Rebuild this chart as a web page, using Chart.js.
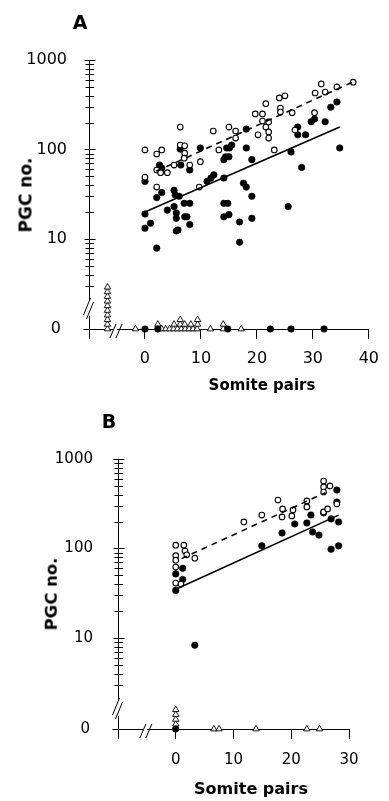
<!DOCTYPE html>
<html>
<head>
<meta charset="utf-8">
<script src="https://cdn.jsdelivr.net/npm/chart.js@4.4.1/dist/chart.umd.min.js"></script>
<style>
  html, body { margin: 0; padding: 0; background: #fff; }
  body { width: 389px; height: 801px; position: relative; overflow: hidden; font-family: "DejaVu Sans", sans-serif; color: #000; }
  canvas { position: absolute; left: 0; }
  #chartA { top: 0; }
  #chartB { top: 400px; }
  .lbl { position: absolute; font-weight: bold; white-space: nowrap; line-height: 1; transform: translate(-50%, -50%); }
  .rot { transform: translate(-50%, -50%) rotate(-90deg); }
</style>
</head>
<body>
<canvas id="chartA" width="389" height="400"></canvas>
<canvas id="chartB" width="389" height="401"></canvas>

<div class="lbl" style="left:80px; top:22px; font-size:19px;">A</div>
<div class="lbl rot" style="left:26px; top:195px; font-size:17px;">PGC no.</div>
<div class="lbl" style="left:262px; top:385px; font-size:15px;">Somite pairs</div>

<div class="lbl" style="left:109px; top:421px; font-size:19px;">B</div>
<div class="lbl rot" style="left:52px; top:594px; font-size:16.5px;">PGC no.</div>
<div class="lbl" style="left:251px; top:789px; font-size:16px;">Somite pairs</div>

<script>
// tick labels
const yLabelTicks = [10, 100, 1000];
const yMinorTicks = [3, 4, 5, 6, 7, 8, 9, 20, 30, 40, 50, 60, 70, 80, 90, 200, 300, 400, 500, 600, 700, 800, 900];
const xTicksA = [-10, 0, 10, 20, 30, 40];
const xTicksB = [-10, 0, 10, 20, 30];

// panel A  [somite pairs, PGC no.]
const aOpen = [
  [0, 99], [2.1, 89], [3.0, 99], [6.3, 178], [6.3, 112], [7.1, 110], [7.1, 91], [7.0, 80],
  [12.2, 161], [13.2, 99], [15.0, 178], [16.2, 161], [16.2, 134],
  [2.1, 59], [2.8, 55], [4.0, 55], [5.2, 67], [8.0, 67], [9.9, 73],
  [0, 49], [2.1, 38], [9.7, 38],
  [19.7, 250], [21.0, 250], [21.6, 325], [21.0, 208], [22.1, 203], [21.6, 178], [22.1, 157], [20.2, 146], [22.1, 134],
  [24.0, 377], [25.0, 398], [24.2, 290], [24.2, 262], [26.3, 258], [23.1, 99], [26.8, 165],
  [30.3, 258], [30.4, 428], [31.5, 540], [32.2, 438], [34.3, 500], [37.2, 565]
];
const aFilled = [
  [0, 44], [2.6, 67], [3.0, 62], [6.3, 101], [6.4, 67], [8.0, 59], [9.9, 104],
  [14.6, 104], [15.1, 104], [15.5, 112], [14.1, 77], [14.4, 83], [15.0, 83],
  [18.1, 104], [18.1, 169], [19.1, 77],
  [11.1, 44], [11.8, 48], [12.3, 52], [14.1, 48], [17.6, 42], [18.1, 38],
  [3.0, 33], [5.2, 35], [5.4, 31], [6.1, 30], [2.1, 29], [7.0, 25], [8.0, 25], [14.1, 25], [14.8, 25], [19.1, 30],
  [26.1, 94], [27.3, 178], [27.3, 146], [28.7, 146], [28.0, 63], [29.7, 204], [30.3, 219], [32.2, 204],
  [33.2, 297], [34.3, 340], [34.8, 104],
  [4.0, 21], [5.2, 23], [5.6, 19.5], [5.6, 17], [7.1, 17.7], [7.5, 17.7], [5.9, 12.6], [5.6, 12.3], [8.0, 14.5],
  [0, 19], [1.0, 15], [0, 13.2], [2.1, 7.9], [14.1, 17.7], [15.0, 18.7], [16.9, 15.5], [16.9, 9.2], [19.1, 17], [25.6, 23]
];
// embryos with no PGCs: [somite pairs, stack position]
const aZeroFilled = [[0, 0], [2.3, 0], [14.8, 0], [22.4, 0], [26.1, 0], [32, 0]];
const aZeroOpen = [
  [-6.7, 0], [-6.7, 1], [-6.7, 2], [-6.7, 3], [-6.7, 4], [-6.7, 5], [-6.7, 6], [-6.7, 7], [-6.7, 8], [-6.7, 9],
  [-1.7, 0], [2.3, 1],
  [3.0, 0], [3.7, 0], [4.4, 0], [5.1, 0], [5.8, 0], [6.5, 0], [7.2, 0], [7.9, 0], [8.6, 0], [9.3, 0],
  [5.2, 1], [6.3, 1], [7.1, 1], [8.2, 1], [9.4, 1], [6.3, 2], [9.4, 2],
  [11.7, 0], [14.0, 0], [14.0, 1], [17.2, 0]
];
const aFitFilled = [[0, 20], [34.8, 178]];
const aFitOpen = [[2.0, 57], [37.2, 570]];

// panel B
const bOpen = [
  [0, 109], [1.4, 109], [0, 83], [1.6, 94], [1.9, 85], [0, 74], [3.3, 78], [0, 62], [0, 41], [0.9, 40],
  [11.8, 198], [14.9, 236], [17.7, 348], [18.5, 277], [18.4, 225], [20.3, 270], [20.1, 231], [22.7, 340], [22.7, 291],
  [25.6, 568], [25.6, 487], [25.6, 428], [26.7, 500], [25.6, 256], [26.3, 277], [27.9, 314]
];
const bFilled = [
  [0, 34], [0, 52], [1.2, 60], [1.2, 45], [3.3, 8.3], [14.9, 107], [18.4, 149], [20.6, 188], [22.7, 193],
  [23.4, 237], [23.7, 153], [24.8, 141], [25.6, 250], [26.9, 214], [27.9, 450], [27.9, 330], [28.2, 198],
  [26.9, 98], [28.2, 107]
];
const bZeroFilled = [[0, 0]];
const bZeroOpen = [[0, 1], [0, 2], [0, 3], [0, 4], [6.6, 0], [7.5, 0], [13.9, 0], [22.7, 0], [24.9, 0]];
const bFitFilled = [[0, 35], [28.2, 236]];
const bFitOpen = [[1.0, 77], [25.9, 420]];

function pts(arr) {
  return arr.map(([x, y]) => ({ x: x, y: y }));
}

// crossing tick marks and the axis breaks
function decoPlugin(p) {
  return {
    id: 'axisDeco',
    afterDraw(chart) {
      const ctx = chart.ctx;
      const yl = chart.scales.y, yz = chart.scales.yz, xs = chart.scales.x;
      const ax = Math.round(chart.chartArea.left) + 0.5;
      const line = (x1, y1, x2, y2) => { ctx.beginPath(); ctx.moveTo(x1, y1); ctx.lineTo(x2, y2); ctx.stroke(); };
      ctx.save();
      ctx.strokeStyle = '#000';
      ctx.lineWidth = 1;
      yl.ticks.forEach(t => {
        const py = Math.round(yl.getPixelForValue(t.value)) + 0.5;
        const major = yLabelTicks.includes(t.value);
        line(ax - (major ? 5 : 4), py, ax + (major ? 6 : 4.5), py);
      });
      const pz = Math.round(yz.getPixelForValue(0)) + 0.5;
      line(ax - 6, pz, ax + 1, pz);

      // y axis break
      const gt = yz.top;
      ctx.fillStyle = '#fff';
      ctx.fillRect(ax - 2, gt + 10, 4, 16);
      line(ax - 6, gt + 25, ax + 1, gt + 8);
      line(ax - 3, gt + 29, ax + 4, gt + 12);

      // x axis break
      const bx = xs.getPixelForValue(p.xBreak);
      const by = xs.top;
      ctx.fillRect(bx - 3, by - 1, 3, 2);
      line(bx - 7, by + 9, bx - 1, by - 5);
      line(bx - 1, by + 9, bx + 5, by - 5);
      ctx.restore();
    }
  };
}

function buildPanel(id, p) {
  const tickFont = { family: 'DejaVu Sans', size: p.fontSize };
  new Chart(document.getElementById(id), {
    type: 'scatter',
    data: {
      datasets: [
        { data: pts(p.fitOpen), yAxisID: 'y', showLine: true, borderColor: '#000', borderWidth: 1.6, borderDash: [6, 5], pointRadius: 0, order: 0, clip: false },
        { data: pts(p.fitFilled), yAxisID: 'y', showLine: true, borderColor: '#000', borderWidth: 1.6, pointRadius: 0, order: 1, clip: false },
        { data: pts(p.open), yAxisID: 'y', pointRadius: 2.8, backgroundColor: '#fff', borderColor: '#000', borderWidth: 1.1, order: 2, clip: false },
        { data: pts(p.filled), yAxisID: 'y', pointRadius: 3.3, backgroundColor: '#000', borderColor: '#000', borderWidth: 0.5, order: 3, clip: false },
        { data: pts(p.zeroFilled), yAxisID: 'yz', pointRadius: 3.3, backgroundColor: '#000', borderColor: '#000', borderWidth: 0.5, order: 4, clip: false },
        { data: pts(p.zeroOpen), yAxisID: 'yz', pointStyle: 'triangle', pointRadius: 3.7, backgroundColor: '#fff', borderColor: '#000', borderWidth: 0.9, order: 5, clip: false }
      ]
    },
    options: {
      responsive: false,
      animation: false,
      devicePixelRatio: 1,
      layout: { padding: { left: 0, top: p.padTop, right: p.padRight, bottom: 0 } },
      plugins: { legend: { display: false }, tooltip: { enabled: false } },
      scales: {
        x: {
          type: 'linear', min: p.xTicks[0], max: p.xTicks[p.xTicks.length - 1],
          afterBuildTicks: s => { s.ticks = p.xTicks.map(v => ({ value: v })); },
          ticks: { callback: v => (v >= 0 ? String(v) : ''), font: tickFont, color: '#000', padding: p.xPad, autoSkip: false, maxRotation: 0 },
          grid: { drawOnChartArea: false, drawTicks: true, tickLength: 10, tickColor: '#000', tickWidth: 1, color: '#000' },
          border: { color: '#000', width: 1 },
          afterFit: s => { s.height = p.xAxisH; }
        },
        // log part sits on top of the stack, zero strip below it
        y: {
          type: 'logarithmic', position: 'left', stack: 'left', stackWeight: p.logW, weight: 2,
          min: p.logMin, max: 1000,
          afterBuildTicks: s => { s.ticks = yMinorTicks.concat(yLabelTicks).sort((a, b) => a - b).map(v => ({ value: v })); },
          ticks: { callback: v => (yLabelTicks.includes(v) ? String(v) : ''), font: tickFont, color: '#000', padding: p.yPad, autoSkip: false },
          grid: { display: false },
          border: { color: '#000', width: 1 },
          afterFit: s => { s.width = p.axisW; }
        },
        yz: {
          type: 'linear', position: 'left', stack: 'left', stackWeight: p.zeroW, weight: 1,
          min: 0, max: p.zeroMax,
          afterBuildTicks: s => { s.ticks = [{ value: 0 }]; },
          ticks: { callback: () => '0', font: tickFont, color: '#000', padding: p.zPad, autoSkip: false },
          grid: { display: false },
          border: { color: '#000', width: 1 },
          afterFit: s => { s.width = p.axisW; }
        }
      }
    },
    plugins: [decoPlugin(p)]
  });
}

buildPanel('chartA', {
  open: aOpen, filled: aFilled, zeroFilled: aZeroFilled, zeroOpen: aZeroOpen,
  fitFilled: aFitFilled, fitOpen: aFitOpen, xTicks: xTicksA, xBreak: -5,
  fontSize: 16, padTop: 60, padRight: 12, axisW: 89, xAxisH: 71,
  logMin: 2.69, logW: 230, zeroW: 39, zeroMax: 8.4, xPad: 10, yPad: 14, zPad: 20
});
buildPanel('chartB', {
  open: bOpen, filled: bFilled, zeroFilled: bZeroFilled, zeroOpen: bZeroOpen,
  fitFilled: bFitFilled, fitOpen: bFitOpen, xTicks: xTicksB, xBreak: -5,
  fontSize: 15, padTop: 59, padRight: 40, axisW: 118, xAxisH: 72,
  logMin: 2.62, logW: 231, zeroW: 39, zeroMax: 8.1, xPad: 12, yPad: 17, zPad: 20
});
</script>
</body>
</html>
